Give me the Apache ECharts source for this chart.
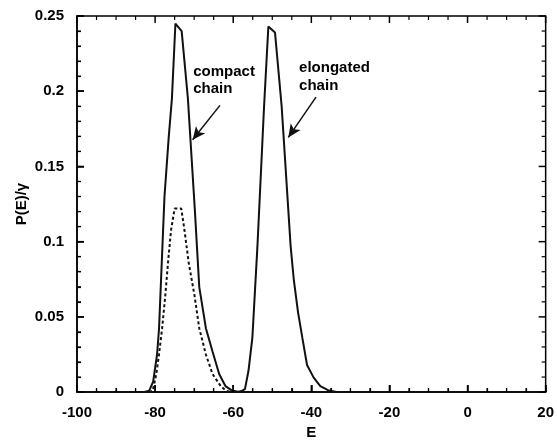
<!DOCTYPE html>
<html>
<head>
<meta charset="utf-8">
<script src="https://cdn.jsdelivr.net/npm/echarts@6/dist/echarts.min.js"></script>
<style>html,body{margin:0;padding:0;background:#fff}#c{width:557px;height:445px}</style>
</head>
<body>
<div id="c"></div>
<script>
// Compact chain (solid)
var compactE = [-83, -81.5, -80.5, -79.5, -79, -78.3, -77.6, -76.5, -75.7, -74.8, -73.2, -71.6, -69.8, -68.7, -67, -65.3, -63.6, -62, -60.3, -58.5];
var compactP = [0, 0.001, 0.007, 0.025, 0.042, 0.086, 0.13, 0.17, 0.195, 0.245, 0.24, 0.195, 0.12, 0.07, 0.0425, 0.027, 0.012, 0.004, 0.001, 0];
// Compact chain (dotted)
var dotE = [-81.5, -80.6, -79.7, -79, -78.2, -77.4, -76.7, -75.9, -75, -73.3, -72.5, -71.4, -69.9, -68.7, -67, -65.3, -63.2, -61.9, -60.5];
var dotP = [0, 0.001, 0.012, 0.025, 0.0425, 0.064, 0.086, 0.108, 0.122, 0.122, 0.108, 0.086, 0.064, 0.0425, 0.025, 0.012, 0.004, 0.001, 0];
// Elongated chain (solid)
var elE = [-59, -57.7, -57, -56.1, -55.1, -53.8, -52.1, -51, -49.3, -47.6, -45.3, -44.5, -43.4, -42.3, -41.1, -39.4, -37.7, -35.5, -33.5];
var elP = [0, 0.001, 0.002, 0.014, 0.036, 0.097, 0.19, 0.243, 0.239, 0.19, 0.097, 0.075, 0.053, 0.036, 0.018, 0.0096, 0.004, 0.001, 0];
// Axis ticks
var xTicks = [-100, -80, -60, -40, -20, 0, 20];
var xMinorTicks = [-95, -90, -85, -75, -70, -65, -55, -50, -45, -35, -30, -25, -15, -10, -5, 5, 10, 15];
var yTicks = [0, 0.05, 0.1, 0.15, 0.2, 0.25];
var yMinorTicks = [0.01, 0.02, 0.03, 0.04, 0.06, 0.07, 0.08, 0.09, 0.11, 0.12, 0.13, 0.14, 0.16, 0.17, 0.18, 0.19, 0.21, 0.22, 0.23, 0.24];
// Annotations
var labelTexts = ['compact', 'chain', 'elongated', 'chain'];
var labelE = [-70.1, -70.1, -43.0, -43.0];
var labelP = [0.2125, 0.201, 0.2155, 0.2035];
var arrows = [
  [[-63.4, 0.1906], [-70.4, 0.1677]],
  [[-38.8, 0.1961], [-45.9, 0.1693]]
];

function pairs(a, b) { return a.map(function (v, i) { return [v, b[i]]; }); }

var FONT = 'Liberation Sans, Arial, sans-serif';
var lineCol = '#111';
var xMin = xTicks[0], xMax = xTicks[xTicks.length - 1];
var yMin = yTicks[0], yMax = yTicks[yTicks.length - 1];

function mkAxis(extra, split) {
  var a = {
    type: 'value',
    axisLine: {show: true, onZero: false, lineStyle: {color: '#000', width: 1.5}},
    axisTick: {show: true, inside: true, length: 7, lineStyle: {color: '#000', width: 1.5}},
    minorTick: {show: true, splitNumber: split, length: 4, lineStyle: {color: '#000', width: 1.2}},
    splitLine: {show: false}
  };
  return Object.assign(a, extra);
}

// Tick marks on all four sides, positioned through the axes' own scales
var xTickData = xTicks.map(function (v) { return [v, yMin, 1]; })
  .concat(xMinorTicks.map(function (v) { return [v, yMin, 0]; }));
var yTickData = yTicks.map(function (v) { return [xMin, v, 1]; })
  .concat(yMinorTicks.map(function (v) { return [xMin, v, 0]; }));

function tickStyle(major) { return {stroke: '#000', lineWidth: major ? 1.5 : 1.2}; }

var chart = echarts.init(document.getElementById('c'));
var option = {
  animation: false,
  grid: {left: 77, right: 9, top: 16, bottom: 47, show: true, borderColor: '#000', borderWidth: 1.5},
  xAxis: mkAxis({
    min: xMin, max: xMax, interval: 20,
    axisLabel: {color: '#000', fontFamily: FONT, fontWeight: 'bold', fontSize: 15, margin: 13},
    name: 'E', nameLocation: 'middle', nameGap: 24,
    nameTextStyle: {color: '#000', fontFamily: FONT, fontWeight: 'bold', fontSize: 15}
  }, 4),
  yAxis: mkAxis({
    min: yMin, max: yMax, interval: 0.05,
    axisLabel: {color: '#000', fontFamily: FONT, fontWeight: 'bold', fontSize: 15, margin: 13},
    name: 'P(E)/\u03B3', nameLocation: 'middle', nameGap: 48, nameRotate: 90, nameMoveOverlap: false,
    nameTextStyle: {color: '#000', fontFamily: FONT, fontWeight: 'bold', fontSize: 15}
  }, 5),
  series: [
    {type: 'custom', silent: true, clip: false, z: 6, encode: {x: 0, y: 1},
      data: xTickData,
      renderItem: function (params, api) {
        var v = api.value(0), major = api.value(2), len = major ? 7 : 4;
        var b = api.coord([v, yMin]), t = api.coord([v, yMax]);
        return {type: 'group', children: [
          {type: 'line', shape: {x1: b[0], y1: b[1], x2: b[0], y2: b[1] - len}, style: tickStyle(major)},
          {type: 'line', shape: {x1: t[0], y1: t[1], x2: t[0], y2: t[1] + len}, style: tickStyle(major)}
        ]};
      }
    },
    {type: 'custom', silent: true, clip: false, z: 6, encode: {x: 0, y: 1},
      data: yTickData,
      renderItem: function (params, api) {
        var v = api.value(1), major = api.value(2), len = major ? 7 : 4;
        var l = api.coord([xMin, v]), r = api.coord([xMax, v]);
        return {type: 'group', children: [
          {type: 'line', shape: {x1: l[0], y1: l[1], x2: l[0] + len, y2: l[1]}, style: tickStyle(major)},
          {type: 'line', shape: {x1: r[0], y1: r[1], x2: r[0] - len, y2: r[1]}, style: tickStyle(major)}
        ]};
      }
    },
    {type: 'line', data: pairs(dotE, dotP), showSymbol: false, z: 2,
      lineStyle: {color: lineCol, width: 2, type: [3, 2.5]}},
    {type: 'line', data: pairs(compactE, compactP), showSymbol: false, z: 3,
      lineStyle: {color: lineCol, width: 2},
      markPoint: {
        silent: true, animation: false,
        symbol: 'circle', symbolSize: 1,
        itemStyle: {color: 'rgba(0,0,0,0)'},
        label: {show: true, position: [0, 0], align: 'left', verticalAlign: 'middle',
          color: '#000', fontFamily: FONT, fontWeight: 'bold', fontSize: 15,
          formatter: function (p) { return p.name; }},
        data: labelTexts.map(function (t, i) { return {name: t, coord: [labelE[i], labelP[i]]}; })
      }
    },
    {type: 'line', data: pairs(elE, elP), showSymbol: false, z: 3,
      lineStyle: {color: lineCol, width: 2},
      markLine: {
        silent: true, animation: false,
        symbol: ['none', 'arrow'], symbolSize: [9, 13],
        label: {show: false},
        lineStyle: {color: '#111', width: 1.5, type: 'solid'},
        data: arrows.map(function (a) { return [{coord: a[0]}, {coord: a[1]}]; })
      }
    }
  ]
};
chart.setOption(option);
</script>
</body>
</html>
